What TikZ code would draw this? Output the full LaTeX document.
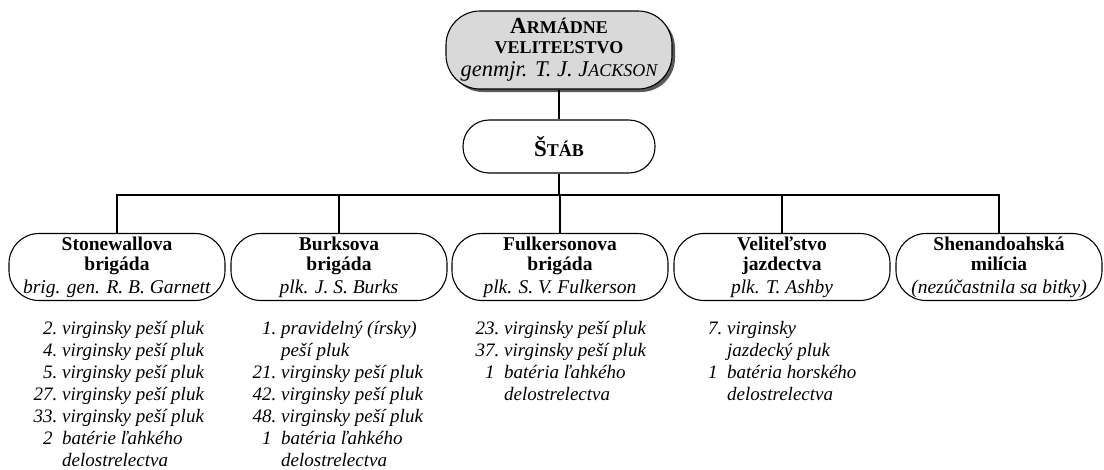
\documentclass[tikz,border=0pt]{standalone}
\usepackage{fontspec}
\setmainfont{Liberation Serif}
\usetikzlibrary{positioning, shadows}

% fake small caps: big first letter, smaller rest
\newcommand{\fakesc}[2]{{\fontsize{23}{21}\selectfont #1}{\fontsize{18}{21}\selectfont #2}}
\newcommand{\nr}[1]{\llap{#1\ }}

\begin{document}
\begin{tikzpicture}[x=1pt, y=-1pt,
    unit/.style={draw, line width=1.1pt, rounded corners=30pt, minimum width=216pt, minimum height=67pt, inner sep=1pt, align=center, font=\fontsize{19.5}{20}\selectfont},
    head/.style={draw, line width=1.1pt, align=center, inner sep=1pt, font=\fontsize{18}{20}\selectfont},
    troops/.style={anchor=north west, inner sep=0pt, align=left, font=\itshape\fontsize{19}{22}\selectfont},
    link/.style={line width=1.1pt}
]
\useasboundingbox (0,0) rectangle (1104,469);

% Headquarters
\node[head, fill=black!15, rounded corners=34pt, minimum width=226pt, minimum height=78pt,
      drop shadow={shadow xshift=3pt, shadow yshift=-3pt, fill=black!65, opacity=1}] (army) at (559,50)
    {\bfseries\fakesc{A}{RMÁDNE}\\ \bfseries VELITEĽSTVO\\[3pt]
     {\itshape\fontsize{22.5}{20}\selectfont genmjr. T. J. J{\fontsize{18}{20}\selectfont ACKSON}}};
\node[head, rounded corners=26pt, minimum width=192pt, minimum height=53pt] (stab) at (559,146.5)
    {\bfseries\fakesc{Š}{TÁB}};

% Brigades
\node[unit] (stonewall) at (117,267) {\textbf{Stonewallova}\\\textbf{brigáda}\\[3pt]\textit{brig. gen. R. B. Garnett}};
\node[unit] (burks) at (339,267) {\textbf{Burksova}\\\textbf{brigáda}\\[3pt]\textit{plk. J. S. Burks}};
\node[unit] (fulkerson) at (560,267) {\textbf{Fulkersonova}\\\textbf{brigáda}\\[3pt]\textit{plk. S. V. Fulkerson}};
\node[unit] (cavalry) at (782,267) {\textbf{Veliteľstvo}\\\textbf{jazdectva}\\[3pt]\textit{plk. T. Ashby}};
\node[unit, minimum width=206pt] (militia) at (999,267) {\textbf{Shenandoahská}\\\textbf{milícia}\\[3pt]\textit{(nezúčastnila sa bitky)}};

% Regiments
\node[troops] (stonewall-list) at (62,318.6) {\strut\nr{2.}virginsky peší pluk\\\nr{4.}virginsky peší pluk\\\nr{5.}virginsky peší pluk\\\nr{27.}virginsky peší pluk\\\nr{33.}virginsky peší pluk\\\nr{2\phantom{.}}batérie ľahkého\\delostrelectva};
\node[troops] (burks-list) at (281,318.6) {\strut\nr{1.}pravidelný (írsky)\\peší pluk\\\nr{21.}virginsky peší pluk\\\nr{42.}virginsky peší pluk\\\nr{48.}virginsky peší pluk\\\nr{1\phantom{.}}batéria ľahkého\\delostrelectva};
\node[troops] (fulkerson-list) at (504,318.6) {\strut\nr{23.}virginsky peší pluk\\\nr{37.}virginsky peší pluk\\\nr{1\phantom{.}}batéria ľahkého\\delostrelectva};
\node[troops] (cavalry-list) at (727,318.6) {\strut\nr{7.}virginsky\\jazdecký pluk\\\nr{1\phantom{.}}batéria horského\\delostrelectva};

% Lines
\coordinate (bus) at (559,195);
\draw[link] (army) -- (stab);
\draw[link] (stab) -- (bus);
\foreach \b in {stonewall, burks, fulkerson, cavalry, militia}
    \draw[link] (\b) |- (bus);

\end{tikzpicture}
\end{document}
